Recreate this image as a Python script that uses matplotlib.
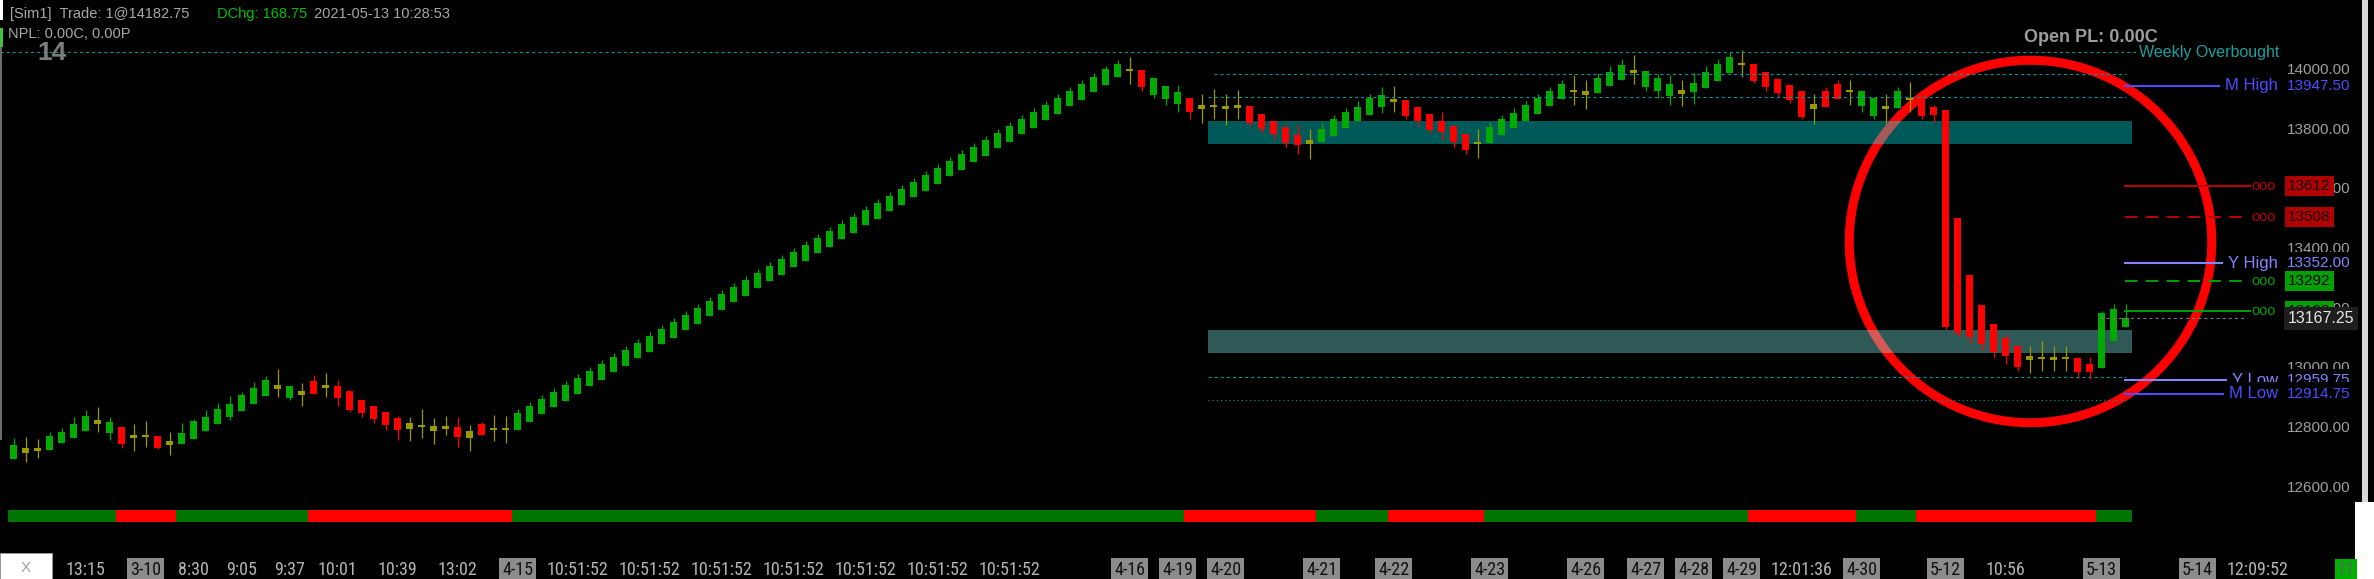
'''
Recreation of a NinjaTrader-style NQ chart snapshot (renko-ish bars, levels, circle)
'''

import numpy as np
import matplotlib
matplotlib.use('Agg')
from matplotlib import pyplot as plt
from matplotlib import font_manager
from matplotlib.patches import Rectangle
from matplotlib.transforms import blended_transform_factory

W, H = 2374, 579

# candle prices, bar 1 .. bar 177
opens = [12696, 12733, 12733, 12726, 12750, 12766, 12790, 12827, 12783, 12803,
         12776, 12776, 12773, 12743, 12746, 12763, 12790, 12813, 12837, 12857,
         12880, 12907, 12944, 12900, 12924, 12957, 12944, 12941, 12924, 12894,
         12874, 12853, 12833, 12797, 12807, 12807, 12807, 12803, 12767, 12813,
         12797, 12797, 12793, 12820, 12847, 12870,
         12892, 12915, 12939, 12962, 12986, 13009, 13033, 13056, 13080, 13103,
         13127, 13150, 13174, 13197, 13221, 13244, 13268, 13291, 13314, 13338,
         13361, 13385, 13408, 13432, 13455, 13479, 13502, 13526, 13549, 13573,
         13596, 13619, 13643, 13666, 13690, 13713, 13737, 13760, 13784, 13807,
         13831, 13854, 13878, 13901, 13926, 13950, 13976,
         14000, 14000, 13916, 13903, 13886,
         13906, 13883, 13883, 13879, 13883, 13879, 13852, 13829, 13809, 13782,
         13765, 13759, 13779, 13806, 13829, 13849, 13876, 13903, 13899, 13876,
         13852, 13829, 13812, 13785, 13759, 13755, 13782, 13806, 13829, 13852,
         13879, 13903, 13930, 13930, 13923, 13946, 13966, 14000, 13943, 13930,
         13913, 13933, 13926, 13940, 13963, 13990, 14020, 14020, 13993, 13970,
         13950, 13930, 13886, 13930, 13953, 13930, 13879, 13846, 13879, 13873,
         13906, 13906, 13876, 13866, 13504, 13313, 13212, 13149, 13102, 13075,
         13041, 13038, 13038, 13035, 13035, 13015, 13001, 13092, 13140]
highs = [12766, 12770, 12763, 12787, 12800, 12837, 12860, 12870, 12837, 12803,
         12813, 12823, 12773, 12787, 12817, 12830, 12860, 12884, 12907, 12921,
         12954, 12974, 12998, 12941, 12951, 12978, 12984, 12961, 12924, 12894,
         12874, 12853, 12840, 12837, 12864, 12833, 12840, 12837, 12810, 12820,
         12844, 12840, 12864, 12887, 12911, 12934,
         12957, 12980, 13004, 13027, 13051, 13074, 13098, 13121, 13145, 13168,
         13192, 13215, 13239, 13262, 13286, 13309, 13333, 13356, 13379, 13403,
         13426, 13450, 13473, 13497, 13520, 13544, 13567, 13591, 13614, 13638,
         13661, 13684, 13708, 13731, 13755, 13778, 13802, 13825, 13849, 13872,
         13896, 13919, 13943, 13966, 13990, 14015, 14033,
         14045, 14000, 13973, 13946, 13950,
         13906, 13920, 13936, 13920, 13933, 13879, 13852, 13829, 13809, 13819,
         13802, 13826, 13849, 13873, 13896, 13920, 13943, 13946, 13899, 13876,
         13852, 13859, 13812, 13785, 13802, 13826, 13849, 13873, 13896, 13920,
         13943, 13966, 13983, 13966, 13990, 14013, 14037, 14050, 13997, 13987,
         13983, 13966, 13990, 14013, 14037, 14060, 14067, 14020, 13993, 13970,
         13950, 13930, 13920, 13943, 13966, 13966, 13930, 13906, 13920, 13943,
         13960, 13906, 13883, 13866, 13504, 13313, 13212, 13149, 13112, 13075,
         13075, 13092, 13075, 13075, 13038, 13038, 13192, 13216, 13216]
lows = [12696, 12686, 12699, 12726, 12750, 12766, 12790, 12787, 12760, 12733,
        12723, 12736, 12730, 12709, 12746, 12763, 12790, 12813, 12827, 12857,
        12880, 12907, 12904, 12894, 12874, 12914, 12904, 12874, 12853, 12837,
        12817, 12793, 12760, 12756, 12766, 12746, 12776, 12736, 12723, 12776,
        12756, 12750, 12793, 12820, 12847, 12870,
        12892, 12915, 12939, 12962, 12986, 13009, 13033, 13056, 13080, 13103,
        13127, 13150, 13174, 13197, 13221, 13244, 13268, 13291, 13314, 13338,
        13361, 13385, 13408, 13432, 13455, 13479, 13502, 13526, 13549, 13573,
        13596, 13619, 13643, 13666, 13690, 13713, 13737, 13760, 13784, 13807,
        13831, 13854, 13878, 13901, 13926, 13950, 13976,
        13953, 13930, 13906, 13883, 13859,
        13836, 13822, 13836, 13816, 13836, 13812, 13789, 13765, 13742, 13718,
        13702, 13759, 13779, 13806, 13829, 13849, 13855, 13859, 13836, 13812,
        13789, 13765, 13742, 13718, 13705, 13755, 13782, 13806, 13829, 13852,
        13879, 13903, 13883, 13869, 13923, 13946, 13966, 13953, 13930, 13906,
        13883, 13879, 13886, 13940, 13963, 13990, 13977, 13955, 13930, 13910,
        13890, 13836, 13819, 13876, 13903, 13883, 13859, 13836, 13822, 13873,
        13859, 13836, 13826, 13132, 13108, 13085, 13061, 13038, 13014, 12991,
        12984, 12991, 12991, 12991, 12968, 12964, 13001, 13092, 13140]
closes = [12743, 12717, 12723, 12773, 12787, 12813, 12840, 12813, 12820, 12746,
          12766, 12770, 12733, 12756, 12783, 12823, 12837, 12864, 12880, 12911,
          12934, 12961, 12931, 12941, 12911, 12914, 12934, 12900, 12860, 12850,
          12830, 12810, 12793, 12817, 12803, 12790, 12797, 12770, 12789, 12776,
          12793, 12793, 12850, 12874, 12897, 12921,
          12944, 12967, 12991, 13014, 13038, 13061, 13085, 13108, 13132, 13155,
          13179, 13202, 13226, 13249, 13273, 13296, 13320, 13343, 13366, 13390,
          13413, 13437, 13460, 13484, 13507, 13531, 13554, 13578, 13601, 13625,
          13648, 13671, 13695, 13718, 13742, 13765, 13789, 13812, 13836, 13859,
          13883, 13906, 13930, 13953, 13976, 14003, 14020,
          13996, 13943, 13973, 13946, 13926,
          13859, 13869, 13876, 13869, 13873, 13822, 13802, 13785, 13755, 13749,
          13752, 13802, 13836, 13859, 13876, 13906, 13916, 13893, 13846, 13829,
          13799, 13792, 13759, 13732, 13752, 13809, 13836, 13856, 13883, 13906,
          13930, 13953, 13926, 13916, 13973, 13993, 14017, 13990, 13997, 13973,
          13953, 13920, 13956, 13993, 14020, 14044, 14017, 13963, 13944, 13924,
          13899, 13842, 13869, 13876, 13903, 13926, 13930, 13906, 13869, 13930,
          13899, 13846, 13849, 13138, 13118, 13105, 13082, 13055, 13041, 13004,
          13028, 13031, 13028, 13031, 12988, 12989, 13185, 13199, 13167.25]

# trend ribbon: bar where each regime starts, 1 = up
trend_start = [1, 10, 15, 26, 43, 99, 110, 116, 124, 146, 155, 160, 175]
trend_up = [1, 0, 1, 0, 1, 0, 1, 0, 1, 0, 1, 0, 1]

# time axis labels (bar index, text)
tick_pos = [7, 12, 16, 20, 24, 28, 33, 38, 43, 48, 54, 60, 66, 72, 78, 84,
            94, 98, 102, 110, 116, 124, 132, 137, 141, 145, 150, 155, 162, 167,
            175, 183, 188]
tick_txt = ['13:15', '3-10', '8:30', '9:05', '9:37', '10:01', '10:39', '13:02',
            '4-15', '10:51:52', '10:51:52', '10:51:52', '10:51:52', '10:51:52',
            '10:51:52', '10:51:52', '4-16', '4-19', '4-20', '4-21', '4-22', '4-23',
            '4-26', '4-27', '4-28', '4-29', '12:01:36', '4-30', '5-12', '10:56',
            '5-13', '5-14', '12:09:52']

price_ticks = [14000, 13800, 13600, 13400, 13200, 13000, 12800, 12600]

# supply / demand zones
zone_lo = [13752, 13051]
zone_hi = [13829, 13128]
zone_left, zone_right = 100.5, 177.5

weekly_ob = 14060
teal_levels = [13986.6, 13909.5, 12971.0]
teal_from = [101, 100.5, 100.5]
dotted_level = 12894

m_high, m_low = 13947.50, 12914.75
y_high, y_low = 13352.00, 12959.75
red_levels = [13612, 13508]
green_levels = [13292, 13193]
last_price = 13167.25

# red highlight ring (bar index, price)
ring_bar, ring_price = 169.0, 13427


def pick_narrow(fm):
    # first condensed face that is really installed, else None
    for f in fm.ttflist:
        if f.name in ('Liberation Sans Narrow', 'Arial Narrow', 'Roboto Condensed'):
            return dict(family=f.name)
    for f in fm.ttflist:
        if f.name in ('DejaVu Sans', 'Noto Sans', 'Open Sans') and 'condensed' in str(f.stretch):
            return dict(family=f.name, stretch='condensed')
    return None


def main():
    plt.rcParams['lines.scale_dashes'] = False
    fm = font_manager.fontManager
    names = {f.name for f in fm.ttflist}
    base = 'Liberation Sans' if 'Liberation Sans' in names else 'DejaVu Sans'
    plt.rcParams['font.family'] = [base, 'DejaVu Sans']
    narrow = pick_narrow(fm)
    if narrow is None:
        tick_font = dict(family=base, fontsize=11.5)
    else:
        tick_font = dict(fontsize=13, **narrow)

    fig = plt.figure(figsize=(W / 100, H / 100), dpi=100, facecolor='black')

    def px(v):
        return v / W

    def py(v):
        return 1 - v / H

    ax = fig.add_axes([0, py(490), 1, 490 / H])
    ax.set_xlim(1 - 13.6 / 12, 1 + (W - 13.6) / 12)
    ax.set_ylim(12592.0, 14234.66)
    ax.set_axis_off()

    o = np.array(opens, dtype=float)
    c = np.array(closes, dtype=float)
    hi = np.array(highs, dtype=float)
    lo = np.array(lows, dtype=float)
    idx = np.arange(1, len(c) + 1)

    # candles
    body = np.abs(c - o)
    cols = np.where(body < 24, '#999900', np.where(c > o, '#00aa00', '#ff0000'))
    ax.vlines(idx, lo, hi, colors=cols, lw=0.9, zorder=4)
    ax.bar(idx, np.maximum(body, 6), bottom=np.minimum(o, c), width=0.58,
           color=cols, linewidth=0, zorder=5)

    # ring
    ax.plot([ring_bar], [ring_price], marker='o', ms=261, mfc='none',
            mec='#ff0000', mew=6.5, zorder=2)

    # zones
    zone_cols = ['#00ffff', '#85fff9']
    for zl, zh, zc in zip(zone_lo, zone_hi, zone_cols):
        ax.add_patch(Rectangle((zone_left, zl), zone_right - zone_left, zh - zl,
                               facecolor=zc, alpha=0.353, linewidth=0, zorder=3))

    teal = '#009c9c'
    dash = (0, (2.2, 2.2))
    ax.axhline(weekly_ob, xmin=0, xmax=px(2137), color=teal, lw=0.8, ls=dash, zorder=6)
    for lev, start in zip(teal_levels, teal_from):
        ax.hlines(lev, start, 177, color=teal, lw=0.8, linestyles=dash, zorder=6)
    ax.hlines(dotted_level, zone_left, 177, color=teal, lw=0.8,
              linestyles=(0, (0.8, 2.2)), zorder=6)

    tr = blended_transform_factory(ax.transAxes, ax.transData)

    # price scale
    for v in price_ticks:
        t = ax.text(px(2287), v, f'{v:.2f}', transform=tr, color='#a0a0a0',
                    fontsize=11, ha='left', va='center', zorder=7)
        t.set_clip_box(ax.bbox)

    # month / year high-low lines
    black_box = dict(boxstyle='square,pad=0.28', fc='black', ec='none')
    for val, name, col in [(m_high, 'M High', '#4d4dff'), (y_high, 'Y High', '#8484ff'),
                           (y_low, 'Y Low', '#8484ff'), (m_low, 'M Low', '#4d4dff')]:
        ax.axhline(val, xmin=px(2125), xmax=px(2240), color=col, lw=1.5, zorder=6)
        ax.text(px(2278), val, name, transform=tr, color=col, fontsize=12,
                ha='right', va='center', zorder=8, bbox=black_box)
        ax.text(px(2287), val, f'{val:.2f}', transform=tr, color=col, fontsize=11,
                ha='left', va='center', zorder=8, bbox=black_box)

    # order levels
    lvl = [(red_levels[0], '-', '#c00000', '#b00000'),
           (red_levels[1], (0, (9, 6)), '#c00000', '#b00000'),
           (green_levels[0], (0, (9, 6)), '#00a000', '#00a000'),
           (green_levels[1], '-', '#00a000', '#00a000')]
    for val, ls, lc, fc in lvl:
        ax.axhline(val, xmin=px(2125), xmax=px(2250), color=lc, lw=1.4, ls=ls, zorder=6)
        ax.text(px(2251), val, 'ooo', transform=tr, color=lc, fontsize=10.5,
                ha='left', va='center', zorder=8)
        ax.text(px(2288), val, f'{val:.0f}', transform=tr, color='#140000', fontsize=11,
                ha='left', va='center', zorder=8,
                bbox=dict(boxstyle='square,pad=0.2', fc=fc, ec='none'))

    ax.axhline(last_price, xmin=px(2100), xmax=px(2247), color='#7a7a7a', lw=0.8,
               ls=dash, zorder=6)
    ax.text(px(2288), last_price, f'{last_price:.2f}', transform=tr, color='#e6e6e6',
            fontsize=11.5, ha='left', va='center', zorder=9,
            bbox=dict(boxstyle='square,pad=0.25', fc='#1e1e1e', ec='none'))

    # trend ribbon
    axr = fig.add_axes([0, py(522), 1, 12 / H], sharex=ax)
    axr.set_ylim(0, 1)
    axr.set_axis_off()
    state = np.array(trend_up)[np.searchsorted(trend_start, idx, side='right') - 1]
    axr.bar(idx, 1, width=1.0, color=np.where(state == 1, '#007400', '#ff0000'),
            linewidth=0)

    # time labels
    xt = blended_transform_factory(ax.transData, fig.transFigure)
    for k, s in zip(tick_pos, tick_txt):
        if '-' in s:
            ax.text(k, py(570), s, transform=xt, ha='center', va='center',
                    color='#101010', clip_on=False,
                    bbox=dict(boxstyle='square,pad=0.16', fc='#8c8c8c', ec='none'),
                    **tick_font)
        else:
            ax.text(k, py(570), s, transform=xt, ha='center', va='center',
                    color='#b4b4b4', clip_on=False, **tick_font)

    # header text
    fig.text(px(10), py(14), '[Sim1]  Trade: 1@14182.75', color='#a8a8a8',
             fontsize=10.5, va='center')
    fig.text(px(217), py(14), 'DChg: 168.75', color='#00c000', fontsize=10.5,
             va='center')
    fig.text(px(314), py(14), '2021-05-13 10:28:53', color='#a8a8a8', fontsize=10.5,
             va='center')
    fig.text(px(8), py(34), 'NPL: 0.00C, 0.00P', color='#a8a8a8', fontsize=10.5,
             va='center')
    fig.text(px(37), py(53), '14', color='#7c7c7c', fontsize=19, fontweight='bold',
             va='center')
    fig.text(px(2024), py(37), 'Open PL: 0.00C', color='#9c9c9c', fontsize=13,
             fontweight='bold', va='center')
    fig.text(px(2139), py(52), 'Weekly Overbought', color='#1aa0a0', fontsize=11.5,
             va='center')

    # window chrome bits
    fig.add_artist(Rectangle((0, py(20)), px(3), 20 / H, transform=fig.transFigure,
                             fc='white', ec='none'))
    fig.add_artist(Rectangle((0, py(47)), px(3), 19 / H, transform=fig.transFigure,
                             fc='#40c040', ec='none'))
    fig.add_artist(Rectangle((0, py(440)), px(1.5), 393 / H, transform=fig.transFigure,
                             fc='#6a6a6a', ec='none'))
    fig.add_artist(Rectangle((0, 0), px(52), 26 / H, transform=fig.transFigure,
                             fc='white', ec='#a0a0a0', lw=0.6))
    fig.text(px(26), py(568), 'X', color='#a0a0a0', fontsize=11, ha='center',
             va='center', fontweight='light')
    fig.add_artist(Rectangle((px(2362), py(502)), px(6), 502 / H,
                             transform=fig.transFigure, fc='#d8d8d8', ec='none'))
    fig.add_artist(Rectangle((px(2355), 0), px(19), 77 / H, transform=fig.transFigure,
                             fc='white', ec='none'))
    fig.text(px(2337), py(570), '11', color='#606060', va='center',
             bbox=dict(boxstyle='square,pad=0.1', fc='#00b000', ec='none'), **tick_font)

    fig.savefig('out.png', dpi=100, facecolor='black')


if __name__ == '__main__':
    main()
